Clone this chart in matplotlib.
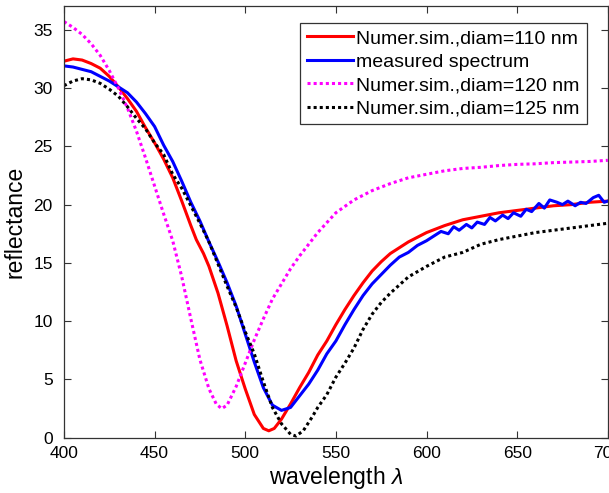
import numpy as np
import matplotlib
matplotlib.use("Agg")
import matplotlib.pyplot as plt

plt.rcParams['font.family'] = ['Liberation Sans', 'DejaVu Sans']
plt.rcParams['mathtext.fontset'] = 'custom'
plt.rcParams['mathtext.it'] = 'Liberation Sans:italic'

# Numer.sim., diam=110 nm
wl_110 = [400, 405, 410, 415, 420, 425, 430, 435, 440, 445, 450, 455, 460, 465, 470,
          473, 477, 480, 485, 490, 495, 500, 505, 510, 513, 516, 520, 525, 530, 535,
          540, 545, 550, 555, 560, 565, 570, 575, 580, 585, 590, 595, 600, 610, 620,
          630, 640, 650, 660, 670, 680, 690, 700]
r_110 = [32.3, 32.5, 32.4, 32.1, 31.7, 31.0, 30.1, 29.1, 28.0, 26.6, 25.3, 23.9, 22.3, 20.3, 18.2,
         17.0, 15.8, 14.7, 12.4, 9.6, 6.6, 4.2, 2.0, 0.8, 0.6, 0.8, 1.6, 2.9, 4.3, 5.6,
         7.1, 8.3, 9.7, 11.0, 12.2, 13.3, 14.3, 15.1, 15.8, 16.3, 16.8, 17.2, 17.6, 18.2, 18.7,
         19.0, 19.3, 19.5, 19.7, 19.9, 20.0, 20.2, 20.3]

# measured spectrum
wl_meas = [400, 405, 410, 415, 420, 425, 430, 435, 440, 445, 450, 455, 460, 465, 470,
           475, 480, 485, 490, 495, 500, 505, 510, 515, 520, 525, 530, 535, 540, 545,
           550, 555, 560, 565, 570, 575, 580, 585, 590, 595, 600, 605, 608, 612, 615,
           618, 622, 625, 628, 632, 635, 638, 642, 645, 648, 652, 655, 658, 662, 665,
           668, 672, 675, 678, 682, 685, 688, 692, 695, 698, 700]
r_meas = [31.9, 31.8, 31.6, 31.4, 31.0, 30.6, 30.1, 29.6, 28.8, 27.8, 26.7, 25.1, 23.7, 22.0, 20.2,
          18.6, 16.8, 15.1, 13.3, 11.3, 8.9, 6.5, 4.3, 2.8, 2.35, 2.6, 3.6, 4.6, 5.8, 7.2,
          8.3, 9.7, 11.0, 12.2, 13.2, 14.0, 14.8, 15.5, 15.9, 16.5, 16.9, 17.4, 17.7, 17.5, 18.1,
          17.8, 18.3, 18.0, 18.5, 18.3, 18.9, 18.6, 19.1, 18.8, 19.3, 19.0, 19.6, 19.4, 20.1, 19.7,
          20.4, 20.2, 20.0, 20.3, 19.9, 20.2, 20.1, 20.6, 20.8, 20.2, 20.3]

# Numer.sim., diam=120 nm
wl_120 = [400, 405, 410, 415, 420, 425, 430, 435, 440, 445, 450, 455, 460, 465, 470,
          475, 480, 484, 487, 490, 495, 500, 505, 510, 515, 520, 525, 530, 540, 550,
          560, 570, 580, 590, 600, 610, 620, 630, 640, 650, 660, 670, 680, 690, 700]
r_120 = [35.7, 35.2, 34.6, 33.8, 32.8, 31.5, 30.0, 28.3, 26.3, 24.0, 21.6, 19.2, 16.9, 13.8, 10.2,
         6.7, 4.2, 2.9, 2.5, 2.8, 4.4, 6.4, 8.4, 10.2, 11.9, 13.2, 14.5, 15.6, 17.6, 19.3,
         20.4, 21.2, 21.8, 22.3, 22.6, 22.9, 23.1, 23.2, 23.35, 23.45, 23.5, 23.6, 23.65, 23.7, 23.8]

# Numer.sim., diam=125 nm
wl_125 = [400, 405, 410, 415, 420, 425, 430, 435, 440, 445, 450, 455, 460, 465, 470,
          475, 480, 485, 490, 495, 500, 505, 510, 515, 520, 525, 528, 532, 537, 540,
          545, 550, 555, 560, 565, 570, 575, 580, 585, 590, 600, 610, 620, 630, 640,
          650, 660, 670, 680, 690, 700]
r_125 = [30.2, 30.6, 30.8, 30.7, 30.4, 29.9, 29.3, 28.4, 27.4, 26.5, 25.3, 24.3, 22.6, 21.4, 19.9,
         18.4, 16.8, 14.9, 13.0, 11.2, 9.1, 7.2, 4.8, 2.6, 1.2, 0.3, 0.15, 0.6, 1.8, 2.6,
         3.7, 5.2, 6.4, 7.7, 9.3, 10.6, 11.6, 12.4, 13.1, 13.8, 14.7, 15.5, 15.9, 16.6, 17.0,
         17.3, 17.6, 17.8, 18.0, 18.2, 18.4]

labels = ['Numer.sim.,diam=110 nm', 'measured spectrum',
          'Numer.sim.,diam=120 nm', 'Numer.sim.,diam=125 nm']

fig = plt.figure(figsize=(6.09, 4.93), dpi=100)
ax = fig.add_axes([0.105, 0.112, 0.893, 0.875])

lw = 2.2
ax.plot(wl_110, r_110, color='#ff0000', lw=lw, label=labels[0])
ax.plot(wl_meas, r_meas, color='#0000ff', lw=lw, label=labels[1])
ax.plot(wl_120, r_120, color='#ff00ff', lw=lw, ls=(0, (1, 1)), label=labels[2])
ax.plot(wl_125, r_125, color='black', lw=lw, ls=(0, (1, 1)), label=labels[3])

ax.set_xlim(400, 700)
ax.set_ylim(0, 37)
ax.set_xticks(np.arange(400, 701, 50))
ax.set_yticks(np.arange(0, 36, 5))
ax.tick_params(direction='in', top=True, right=True, labelsize=12.5, length=5,
               color='#333333')
ax.tick_params(axis='x', pad=6)
ax.tick_params(axis='y', pad=8)
for s in ax.spines.values():
    s.set_color('#333333')
    s.set_linewidth(0.9)

ax.set_xlabel(r'wavelength $\it{\lambda}$', fontsize=16.5, labelpad=2)
ax.set_ylabel('reflectance', fontsize=16.5, labelpad=5)

leg = ax.legend(loc='upper right', fontsize=14, fancybox=False, framealpha=1,
                edgecolor='#333333', handlelength=2.4, handletextpad=0.15,
                labelspacing=0.3, borderpad=0.35, borderaxespad=0,
                bbox_to_anchor=(0.961, 0.962))
leg.get_frame().set_linewidth(0.9)

fig.savefig('out.png', dpi=100)
